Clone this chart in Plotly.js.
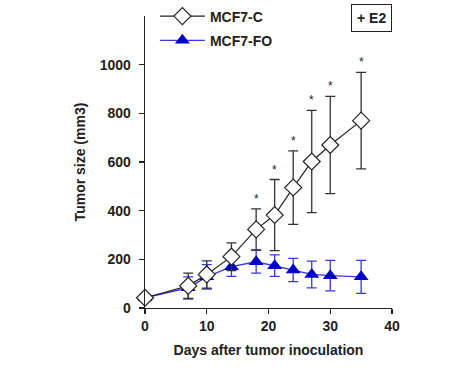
<!DOCTYPE html>
<html><head><meta charset="utf-8">
<script src="https://cdn.plot.ly/plotly-3.0.1.min.js"></script>
<style>html,body{margin:0;padding:0;background:#fff}#c{width:474px;height:368px}</style>
</head><body><div id="c"></div>
<script>
const days = [0, 7, 10, 14, 18, 21, 24, 27, 30, 35];
const ctrlMean = [42, 91, 138, 211, 323, 382, 495, 602, 670, 770];
const ctrlErr  = [0, 52, 56, 57, 84, 146, 151, 210, 200, 198];
const foMean   = [42, 83, 128, 170, 190, 174, 156, 138, 133, 128];
const foErr    = [0, 45, 50, 40, 47, 44, 48, 55, 63, 68];
const sigDays  = [18, 21, 24, 27, 30, 35];
const xTicks = [0, 10, 20, 30, 40];
const yTicks = [0, 200, 400, 600, 800, 1000];

const F = 'Liberation Sans, Arial, Helvetica, sans-serif';

const traces = [
  {
    x: days, y: foMean, name: 'MCF7-FO', mode: 'lines+markers', legendgroup: 'b', legendrank: 2,
    line: {color: '#3a3ad0', width: 1.3},
    marker: {symbol: 'triangle-up', size: 13, color: '#0000c8', line: {width: 0}},
    error_y: {type: 'data', array: foErr, visible: true, color: '#3a3ad0', thickness: 1.3, width: 5},
    cliponaxis: false
  },
  {
    x: days, y: ctrlMean, name: 'MCF7-C', mode: 'lines+markers', legendgroup: 'a', legendrank: 1,
    line: {color: '#222', width: 1.2},
    marker: {symbol: 'diamond', size: 13, color: '#fff', line: {color: '#222', width: 1.2}},
    error_y: {type: 'data', array: ctrlErr, visible: true, color: '#333', thickness: 1.3, width: 5},
    cliponaxis: false
  }
];

const ann = sigDays.map(d => {
  const i = days.indexOf(d);
  return {x: d, y: ctrlMean[i] + ctrlErr[i], xref: 'x', yref: 'y', text: '*', showarrow: false,
    yshift: 10, font: {family: F, size: 12, color: '#222'}};
});
ann.push({xref: 'paper', yref: 'paper', x: 0.919, y: 0.993, xanchor: 'center', yanchor: 'middle',
  text: '<b>+ E2</b>', showarrow: false, bordercolor: '#222', borderwidth: 1, borderpad: 5,
  font: {family: F, size: 14, color: '#222'}});

const layout = {
  width: 474, height: 368,
  margin: {l: 145, r: 82, t: 16, b: 60, autoexpand: false},
  paper_bgcolor: '#fff', plot_bgcolor: '#fff',
  font: {family: F, color: '#222'},
  showlegend: true,
  legend: {x: 0.04, y: 1.053, xanchor: 'left', yanchor: 'top', traceorder: 'grouped',
    tracegroupgap: 3, itemwidth: 45, bgcolor: 'rgba(0,0,0,0)',
    font: {family: F, size: 14, color: '#222', weight: 'bold'}},
  xaxis: {range: [0, 40], tickvals: xTicks, ticktext: xTicks.map(String), showgrid: false, zeroline: false,
    showline: true, linecolor: '#222', linewidth: 1.3, ticks: 'outside', ticklen: 5, tickwidth: 1.3,
    tickcolor: '#222', tickfont: {family: F, size: 14, color: '#222', weight: 'bold'},
    title: {text: 'Days after tumor inoculation', font: {family: F, size: 14, color: '#222', weight: 'bold'}, standoff: 12}},
  yaxis: {range: [0, 1200], tickvals: yTicks, ticktext: yTicks.map(String), showgrid: false, zeroline: false,
    showline: true, linecolor: '#222', linewidth: 1.3, ticks: 'outside', ticklen: 5, tickwidth: 1.3,
    tickcolor: '#222', tickfont: {family: F, size: 14, color: '#222', weight: 'bold'}, ticklabelstandoff: 5,
    title: {text: 'Tumor size (mm3)', font: {family: F, size: 14, color: '#222', weight: 'bold'}, standoff: 10}},
  annotations: ann
};

Plotly.newPlot('c', traces, layout, {displayModeBar: false, staticPlot: true});
</script>
</body></html>
